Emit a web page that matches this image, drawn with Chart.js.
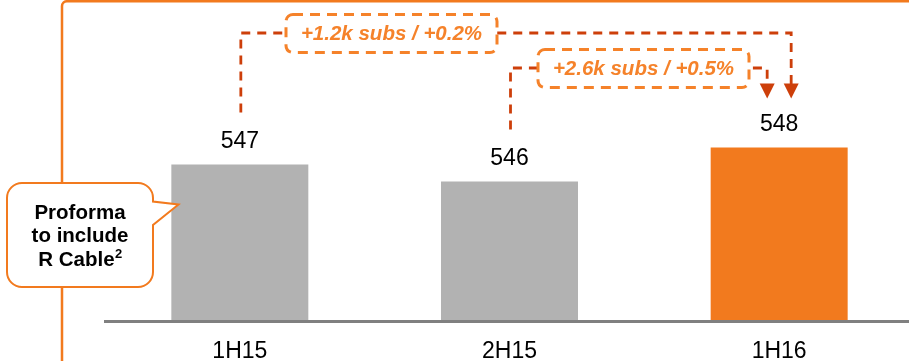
<!DOCTYPE html>
<html>
<head>
<meta charset="utf-8">
<script src="https://cdn.jsdelivr.net/npm/chart.js@4"></script>
<style>
  html, body { margin: 0; padding: 0; background: #fff; overflow: hidden; }
  #wrap { position: absolute; left: 0; top: 0; width: 914px; height: 361px; }
</style>
</head>
<body>
<div id="wrap"><canvas id="subs-chart" width="914" height="361"></canvas></div>
<script>
// Subscribers per half-year (thousands)
const periods = ['1H15', '2H15', '1H16'];
const subscribers = [547, 546, 548];

// Change notes shown in the dashed boxes
const changeNotes = ['+1.2k subs / +0.2%', '+2.6k subs / +0.5%'];

// Callout text on the left
const calloutLines = ['Proforma', 'to include', 'R Cable'];
const calloutNote = '2';

const FONT = 'Arial, "Liberation Sans", sans-serif';
const ORANGE = '#F27A1E';
const BOX_ORANGE = '#F5822A';
const ARROW_RED = '#CD3F0A';
const GREY = '#B2B2B2';

// Numbers above each bar
const valueLabels = {
    id: 'valueLabels',
    afterDatasetsDraw(chart) {
        const ctx = chart.ctx;
        const bars = chart.getDatasetMeta(0).data;
        ctx.save();
        ctx.font = '23px ' + FONT;
        ctx.fillStyle = '#000';
        ctx.textAlign = 'center';
        ctx.textBaseline = 'alphabetic';
        bars.forEach((bar, i) => {
            ctx.fillText(String(subscribers[i]), bar.x, bar.y - 17);
        });
        ctx.restore();
    }
};

function dashedBox(ctx, x, y, w, h, text) {
    ctx.save();
    ctx.beginPath();
    ctx.roundRect(x, y, w, h, 7);
    ctx.fillStyle = '#fff';
    ctx.fill();
    ctx.setLineDash([10, 7]);
    ctx.lineWidth = 3;
    ctx.strokeStyle = BOX_ORANGE;
    ctx.stroke();
    ctx.setLineDash([]);
    ctx.font = 'italic bold 20.5px ' + FONT;
    ctx.fillStyle = BOX_ORANGE;
    ctx.textAlign = 'center';
    ctx.textBaseline = 'middle';
    ctx.fillText(text, x + w / 2, y + h / 2 + 1);
    ctx.restore();
}

function bracket(ctx, x1, yStart, yTop, x2, yTip) {
    ctx.save();
    ctx.strokeStyle = ARROW_RED;
    ctx.lineWidth = 2.8;
    ctx.setLineDash([9, 7]);
    ctx.beginPath();
    ctx.moveTo(x1, yStart);
    ctx.lineTo(x1, yTop);
    ctx.lineTo(x2, yTop);
    ctx.lineTo(x2, yTip - 14);
    ctx.stroke();
    ctx.setLineDash([]);
    ctx.fillStyle = ARROW_RED;
    ctx.beginPath();
    ctx.moveTo(x2 - 7.5, yTip - 15);
    ctx.lineTo(x2 + 7.5, yTip - 15);
    ctx.lineTo(x2, yTip);
    ctx.closePath();
    ctx.fill();
    ctx.restore();
}

// Frame, change brackets and the callout
const annotations = {
    id: 'annotations',
    afterDraw(chart) {
        const ctx = chart.ctx;
        const bars = chart.getDatasetMeta(0).data;

        // orange frame line (left and top)
        ctx.save();
        ctx.strokeStyle = ORANGE;
        ctx.lineWidth = 2.5;
        ctx.beginPath();
        ctx.moveTo(62, 361);
        ctx.lineTo(62, 6);
        ctx.arcTo(62, 1.2, 67, 1.2, 5);
        ctx.lineTo(920, 1.2);
        ctx.stroke();
        ctx.restore();

        // brackets from the earlier periods to 1H16
        const tip = bars[2].y - 49;
        bracket(ctx, bars[0].x + 1, bars[0].y - 52, 33, bars[2].x + 12, tip);
        bracket(ctx, bars[1].x + 1, bars[1].y - 52, 68, bars[2].x - 12, tip);

        dashedBox(ctx, 286, 14.5, 211, 38, changeNotes[0]);
        dashedBox(ctx, 538, 49.5, 211, 38, changeNotes[1]);

        // callout bubble pointing at the first bar
        const l = 7, t = 183, r = 153, b = 287, rad = 15;
        ctx.save();
        ctx.beginPath();
        ctx.moveTo(l + rad, t);
        ctx.lineTo(r - rad, t);
        ctx.arcTo(r, t, r, t + rad, rad);
        ctx.lineTo(r, 201.5);
        ctx.lineTo(178.5, 204.5);
        ctx.lineTo(r, 225);
        ctx.lineTo(r, b - rad);
        ctx.arcTo(r, b, r - rad, b, rad);
        ctx.lineTo(l + rad, b);
        ctx.arcTo(l, b, l, b - rad, rad);
        ctx.lineTo(l, t + rad);
        ctx.arcTo(l, t, l + rad, t, rad);
        ctx.closePath();
        ctx.fillStyle = '#fff';
        ctx.fill();
        ctx.lineWidth = 2;
        ctx.strokeStyle = ORANGE;
        ctx.stroke();

        ctx.fillStyle = '#000';
        ctx.textBaseline = 'middle';
        ctx.font = 'bold 20.5px ' + FONT;
        ctx.textAlign = 'center';
        ctx.fillText(calloutLines[0], 80, 213);
        ctx.fillText(calloutLines[1], 80, 236.5);
        const mainW = ctx.measureText(calloutLines[2]).width;
        ctx.font = 'bold 13px ' + FONT;
        const supW = ctx.measureText(calloutNote).width;
        const startX = 80 - (mainW + supW) / 2;
        ctx.textAlign = 'left';
        ctx.font = 'bold 20.5px ' + FONT;
        ctx.fillText(calloutLines[2], startX, 260);
        ctx.font = 'bold 13px ' + FONT;
        ctx.fillText(calloutNote, startX + mainW + 0.5, 254);
        ctx.restore();
    }
};

new Chart(document.getElementById('subs-chart'), {
    type: 'bar',
    data: {
        labels: periods,
        datasets: [{
            data: subscribers,
            backgroundColor: [GREY, GREY, ORANGE],
            borderWidth: 0,
            categoryPercentage: 1,
            barPercentage: 0.508
        }]
    },
    options: {
        responsive: false,
        animation: false,
        layout: { padding: { left: 105, top: 0, right: 0, bottom: 0 } },
        plugins: {
            legend: { display: false },
            tooltip: { enabled: false }
        },
        scales: {
            x: {
                grid: { display: false, drawTicks: false },
                border: { color: '#808080', width: 3, z: 1 },
                ticks: {
                    color: '#000',
                    font: { family: FONT, size: 23 },
                    padding: 17
                },
                afterFit: (scale) => { scale.height = 40; }
            },
            y: {
                display: false,
                min: 537.8,
                max: 556.68
            }
        }
    },
    plugins: [valueLabels, annotations]
});
</script>
</body>
</html>
